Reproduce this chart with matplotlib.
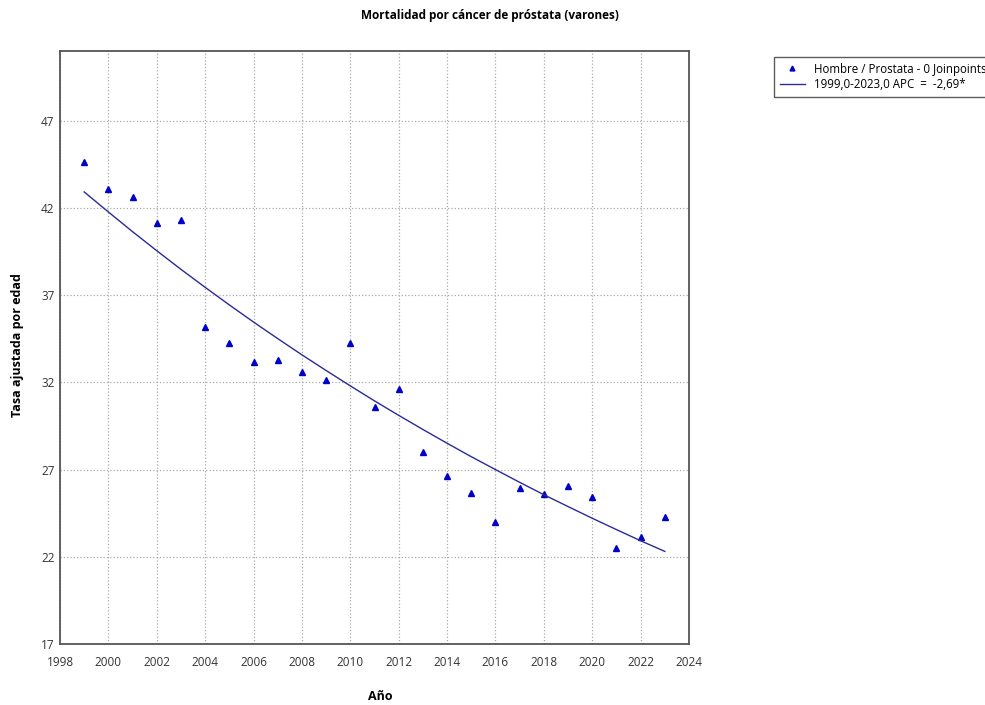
import matplotlib
matplotlib.use("Agg")
import matplotlib.pyplot as plt

years = [1999, 2000, 2001, 2002, 2003, 2004, 2005, 2006, 2007, 2008, 2009, 2010,
         2011, 2012, 2013, 2014, 2015, 2016, 2017, 2018, 2019, 2020, 2021, 2022, 2023]
observed = [44.64, 43.07, 42.63, 41.16, 41.30, 35.16, 34.26, 33.15, 33.30, 32.61, 32.16, 34.28,
            30.60, 31.60, 28.00, 26.62, 25.66, 23.98, 25.95, 25.60, 26.06, 25.41, 22.50, 23.15, 24.30]
fitted = [42.92, 41.77, 40.64, 39.55, 38.48, 37.45, 36.44, 35.46, 34.51, 33.58, 32.68, 31.80,
          30.94, 30.11, 29.30, 28.51, 27.74, 27.00, 26.27, 25.56, 24.88, 24.21, 23.56, 22.92, 22.31]

x_ticks = list(range(1998, 2025, 2))
y_ticks = [17, 22, 27, 32, 37, 42, 47]

plt.rcParams['font.family'] = ['Open Sans', 'DejaVu Sans']

fig = plt.figure(figsize=(9.85, 7.05), dpi=100)
ax = fig.add_axes([60 / 985, 1 - 644 / 705, (689 - 60) / 985, (644 - 51) / 705])

pts, = ax.plot(years, observed, linestyle='none', marker='^', markersize=5,
               color='#0000c8', label='Hombre / Prostata - 0 Joinpoints')
fit, = ax.plot(years, fitted, color='#2a2a9a', linewidth=1.0,
               label='1999,0-2023,0 APC  =  -2,69*')

ax.set_xlim(1998, 2024)
ax.set_ylim(17, 51)
ax.set_xticks(x_ticks)
ax.set_yticks(y_ticks)
ax.tick_params(length=0, labelsize=8.5, colors='#333333')
ax.tick_params(axis='x', pad=9)
ax.tick_params(axis='y', pad=4)
ax.grid(True, linestyle=':', color='#aaaaaa', linewidth=0.9)
for sp in ax.spines.values():
    sp.set_color('#555555')
    sp.set_linewidth(1.3)

fig.text(380 / 985, 1 - 697 / 705, 'Año', ha='center', va='center',
         fontsize=9, fontweight='bold')
fig.text(18 / 985, 1 - 345 / 705, 'Tasa ajustada por edad', ha='center', va='center',
         rotation=90, fontsize=9, fontweight='bold')
fig.text(0.497, 1 - 16 / 705, 'Mortalidad por cáncer de próstata (varones)',
         ha='center', va='center', fontsize=8.5, fontweight='bold')

leg = fig.legend(handles=[pts, fit], loc='upper left',
                 bbox_to_anchor=(768 / 985, 1 - 51 / 705), fontsize=8.3,
                 frameon=True, fancybox=False, borderpad=0.5, handlelength=2.2,
                 labelspacing=0.2, markerscale=0.7)
leg.get_frame().set_edgecolor('#333333')
leg.get_frame().set_linewidth(1.0)

fig.savefig('out.png', dpi=100)
